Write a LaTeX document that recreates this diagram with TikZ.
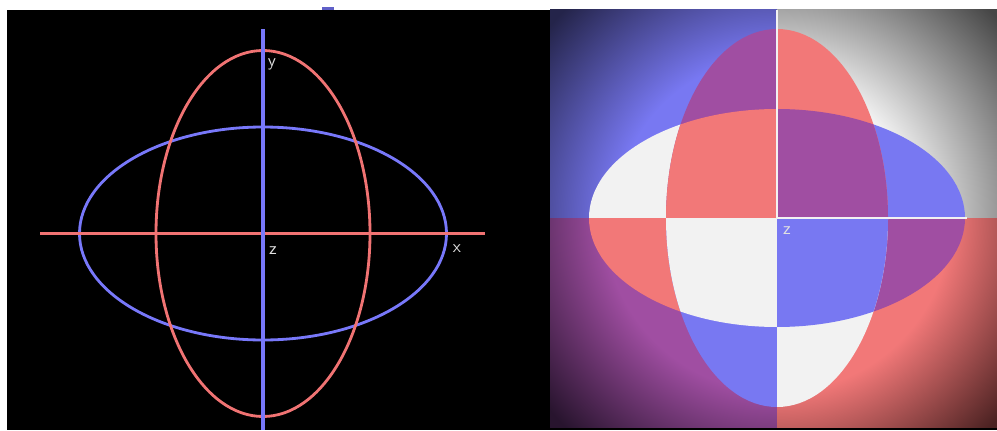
\documentclass[tikz,border=0pt]{standalone}
\usepackage{tikz}
\usepackage{xcolor}
\definecolor{lineBlue}{RGB}{120,120,250}
\definecolor{lineRed}{RGB}{240,115,115}
\definecolor{labelGray}{RGB}{225,225,225}
\definecolor{pBlue}{RGB}{120,120,242}
\definecolor{pRed}{RGB}{242,120,120}
\definecolor{pPurple}{RGB}{160,78,162}
\definecolor{pWhite}{RGB}{242,242,242}
\definecolor{qBlueDark}{RGB}{36,36,74}
\definecolor{qGrayDark}{RGB}{70,70,70}
\definecolor{qPurpleDark}{RGB}{40,20,46}
\definecolor{qRedDark}{RGB}{76,34,34}
\pgfdeclareradialshading{quadBlue}{\pgfpoint{0bp}{0bp}}{color(0bp)=(pBlue); color(13bp)=(pBlue); color(24bp)=(qBlueDark); color(50bp)=(qBlueDark)}
\pgfdeclareradialshading{quadGray}{\pgfpoint{0bp}{0bp}}{color(0bp)=(pWhite); color(11bp)=(pWhite); color(24bp)=(qGrayDark); color(50bp)=(qGrayDark)}
\pgfdeclareradialshading{quadPurple}{\pgfpoint{0bp}{0bp}}{color(0bp)=(pPurple); color(14bp)=(pPurple); color(24bp)=(qPurpleDark); color(50bp)=(qPurpleDark)}
\pgfdeclareradialshading{quadRed}{\pgfpoint{0bp}{0bp}}{color(0bp)=(pRed); color(14bp)=(pRed); color(24bp)=(qRedDark); color(50bp)=(qRedDark)}

\begin{document}
\begin{tikzpicture}[x=0.02cm,y=0.02cm,
  axislabel/.style={text=labelGray,font=\sffamily,inner sep=0pt}]
\useasboundingbox (0,0) rectangle (997,430);
\fill[white] (0,0) rectangle (997,430);
% left panel
\fill[black] (7,0) rectangle (550,420);
\fill[lineBlue!80!black] (322,420) rectangle (334,423);
\coordinate (lc) at (263,196.5);
\draw[lineBlue,line width=1.6pt] (lc) ellipse (183.5 and 106.5);
\draw[lineRed,line width=1.6pt] (lc) ellipse (107 and 183);
\coordinate (xAxisL) at (40,196.5);
\coordinate (xAxisR) at (485,196.5);
\coordinate (yAxisT) at (263,401);
\coordinate (yAxisB) at (263,0);
\draw[lineRed,line width=1.7pt] (xAxisL) -- (xAxisR);
\draw[lineBlue,line width=1.8pt] (yAxisT) -- (yAxisB);
\node[axislabel] (ly) at (272,366) {y};
\node[axislabel] (lz) at (273,179) {z};
\node[axislabel] (lx) at (457,181) {x};
% right panel
\fill[black] (550,0) rectangle (997,3);
\coordinate (rc) at (777,212);
\foreach \qx/\qy/\sh/\ch/\cv/\cb in {550/420/quadBlue/pWhite/pPurple/pRed,
    997/420/quadGray/pBlue/pRed/pPurple,
    550/3/quadPurple/pRed/pBlue/pWhite,
    997/3/quadRed/pPurple/pWhite/pBlue}{
  \begin{scope}
    \clip (rc) rectangle (\qx,\qy);
    \shade[shading=\sh] (rc) circle (310);
    \fill[\ch] (rc) ellipse (188 and 109);
    \fill[\cv] (rc) ellipse (111 and 189);
    \clip (rc) ellipse (188 and 109);
    \fill[\cb] (rc) ellipse (111 and 189);
  \end{scope}
}
\coordinate (rTop) at (777,420);
\coordinate (rRight) at (967,212);
\draw[pWhite,line width=1.1pt] (rTop) -- (rc) -- (rRight);
\node[axislabel] (rz) at (787,199) {z};
\end{tikzpicture}
\end{document}
